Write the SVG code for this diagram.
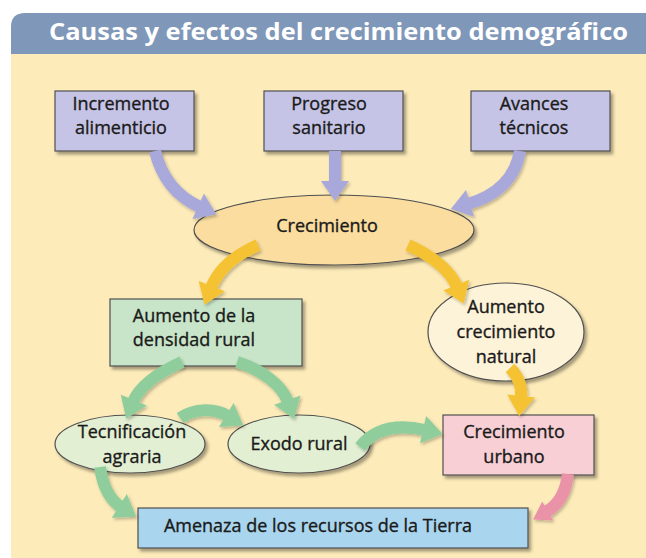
<svg xmlns="http://www.w3.org/2000/svg" width="646" height="558" viewBox="0 0 646 558">
<defs>
<style>
.t{font-family:"Open Sans","Noto Sans","Liberation Sans",sans-serif;font-size:18px;fill:#1a1a1a;stroke:#1a1a1a;stroke-width:0.35;text-anchor:middle}
.title{font-family:"Open Sans","Noto Sans","Liberation Sans",sans-serif;font-size:24px;font-weight:bold;fill:#ffffff}
.node{stroke:#505050;stroke-width:1.2}
.arr{fill:none;stroke-width:12}
.lav{stroke:#A9A8DA}
.yel{stroke:#F4C233}
.grn{stroke:#8FCE9C}
.pnk{stroke:#EA92A8}
</style>
<filter id="sh" x="-10%" y="-10%" width="130%" height="140%">
<feDropShadow dx="2.5" dy="3" stdDeviation="1.8" flood-color="#000" flood-opacity="0.35"/>
</filter>
<filter id="ash" x="-20%" y="-20%" width="150%" height="150%">
<feDropShadow dx="1.5" dy="2" stdDeviation="1.5" flood-color="#000" flood-opacity="0.25"/>
</filter>
<marker id="mLav" markerUnits="userSpaceOnUse" markerWidth="32" markerHeight="32" viewBox="0 -16 24 32" refX="2" refY="0" orient="auto"><path d="M0,-14 L20,0 L0,14 Z" fill="#A9A8DA"/></marker>
<marker id="mYel" markerUnits="userSpaceOnUse" markerWidth="32" markerHeight="32" viewBox="0 -16 24 32" refX="2" refY="0" orient="auto"><path d="M0,-14 L20,0 L0,14 Z" fill="#F4C233"/></marker>
<marker id="mGrn" markerUnits="userSpaceOnUse" markerWidth="32" markerHeight="32" viewBox="0 -16 24 32" refX="2" refY="0" orient="auto"><path d="M0,-14 L20,0 L0,14 Z" fill="#8FCE9C"/></marker>
<marker id="mPnk" markerUnits="userSpaceOnUse" markerWidth="30" markerHeight="30" viewBox="0 -15 22 30" refX="2" refY="0" orient="auto"><path d="M0,-11 L17,0 L0,11 Z" fill="#EA92A8"/></marker>
</defs>
<rect x="0" y="0" width="646" height="558" fill="#ffffff"/>
<rect x="11" y="54" width="635" height="504" fill="#FDEBB9"/>
<path d="M11,54 L11,27 Q11,13 25,13 L646,13 L646,54 Z" fill="#7F97B9"/>
<text class="title" x="49" y="40" textLength="579" lengthAdjust="spacingAndGlyphs">Causas y efectos del crecimiento demográfico</text>

<g id="n-incremento"><rect class="node" x="55" y="91" width="139" height="60" fill="#C6C4E6" filter="url(#sh)"/><text class="t" x="121" y="110">Incremento</text><text class="t" x="121" y="134">alimenticio</text></g>
<g id="n-progreso"><rect class="node" x="264" y="91" width="139" height="60" fill="#C6C4E6" filter="url(#sh)"/><text class="t" x="329" y="110">Progreso</text><text class="t" x="329" y="134">sanitario</text></g>
<g id="n-avances"><rect class="node" x="471" y="91" width="139" height="60" fill="#C6C4E6" filter="url(#sh)"/><text class="t" x="534" y="110">Avances</text><text class="t" x="534" y="134">técnicos</text></g>
<g id="n-crecimiento"><ellipse class="node" cx="334" cy="230" rx="140" ry="35" fill="#FADD9F" filter="url(#sh)"/><text class="t" x="327" y="232">Crecimiento</text></g>
<g id="n-densidad"><rect class="node" x="110" y="299" width="192" height="67" fill="#C8E5C9" filter="url(#sh)"/><text class="t" x="194" y="322">Aumento de la</text><text class="t" x="194" y="346">densidad rural</text></g>
<g id="n-natural"><ellipse class="node" cx="506" cy="332" rx="78" ry="49" fill="#FDF3D8" filter="url(#sh)"/><text class="t" x="506" y="313">Aumento</text><text class="t" x="506" y="338">crecimiento</text><text class="t" x="506" y="363">natural</text></g>
<g id="n-tecnificacion"><ellipse class="node" cx="130" cy="444" rx="75" ry="29" fill="#E3EFD3" filter="url(#sh)"/><text class="t" x="132" y="438">Tecnificación</text><text class="t" x="132" y="463">agraria</text></g>
<g id="n-exodo"><ellipse class="node" cx="299" cy="444" rx="71" ry="29" fill="#E3EFD3" filter="url(#sh)"/><text class="t" x="299" y="450">Exodo rural</text></g>
<g id="n-urbano"><rect class="node" x="443" y="415" width="151" height="60" fill="#F7CFD5" filter="url(#sh)"/><text class="t" x="514" y="438">Crecimiento</text><text class="t" x="514" y="463">urbano</text></g>
<g id="n-amenaza"><rect class="node" x="138" y="508" width="390" height="40" fill="#A9D5EE" filter="url(#sh)"/><text class="t" x="318" y="532">Amenaza de los recursos de la Tierra</text></g>

<g id="connectors" filter="url(#ash)">
<path class="arr lav" d="M155,151 C162,180 178,197 200,207" marker-end="url(#mLav)"/>
<path class="arr lav" d="M335,151 L335,183" marker-end="url(#mLav)"/>
<path class="arr lav" d="M520,151 C515,180 495,196 468,204" marker-end="url(#mLav)"/>
<path class="arr yel" d="M258,245 C235,255 218,270 211,288" marker-end="url(#mYel)"/>
<path class="arr yel" d="M408,245 C432,256 450,270 457,287" marker-end="url(#mYel)"/>
<path class="arr yel" d="M510,368 C520,378 522,388 521,398" marker-end="url(#mYel)"/>
<path class="arr grn" d="M182,362 C160,372 140,385 133,402" marker-end="url(#mGrn)"/>
<path class="arr grn" d="M237,362 C262,370 282,385 288,402" marker-end="url(#mGrn)"/>
<path class="arr grn" d="M180,418 C195,408 215,408 228,416" stroke-width="9" marker-end="url(#mGrn)"/>
<path class="arr grn" d="M360,447 C375,428 398,424 425,430" marker-end="url(#mGrn)"/>
<path class="arr grn" d="M100,467 C103,488 110,500 121,507" marker-end="url(#mGrn)"/>
<path class="arr pnk" d="M568,474 C566,492 558,505 546,512" stroke-width="8" marker-end="url(#mPnk)"/>
</g>
</svg>
